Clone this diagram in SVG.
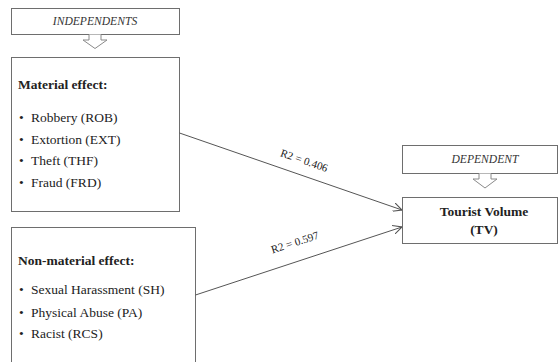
<svg xmlns="http://www.w3.org/2000/svg" width="559" height="362" viewBox="0 0 559 362">
<style>
.box{fill:#fff;stroke:#6e6e6e;stroke-width:1}
.hd{fill:#fff;stroke:#8a8a8a;stroke-width:1}
.t{font-family:"Liberation Serif","DejaVu Serif",serif;font-size:13.5px;fill:#222}
.b{font-weight:bold}
.i{font-style:italic;font-size:11.6px;fill:#333}
.r{font-size:11px}
.c{stroke:#555;stroke-width:1;fill:none}
</style>
<defs>
<marker id="ah" viewBox="0 0 10 10" refX="10" refY="5" markerWidth="9" markerHeight="9" orient="auto" markerUnits="userSpaceOnUse">
<path d="M0,0 L10,5 L0,10" fill="none" stroke="#555" stroke-width="1.2"/>
</marker>
</defs>
<rect width="559" height="362" fill="#fff"/>
<g id="independents">
<rect class="box" x="11.5" y="8.5" width="168" height="26"/>
<text class="t i" x="95" y="25" text-anchor="middle">INDEPENDENTS</text>
<path class="hd" d="M89,34.5 L89,40 L83,40 L95,48.5 L107,40 L101,40 L101,34.5"/>
</g>
<g id="material">
<rect class="box" x="11.5" y="57.5" width="168" height="154"/>
<text class="t b" x="18" y="89">Material effect:</text>
<text class="t" x="19" y="122">•</text><text class="t" x="31" y="122">Robbery (ROB)</text>
<text class="t" x="19" y="144">•</text><text class="t" x="31" y="144">Extortion (EXT)</text>
<text class="t" x="19" y="165">•</text><text class="t" x="31" y="165">Theft (THF)</text>
<text class="t" x="19" y="187">•</text><text class="t" x="31" y="187">Fraud (FRD)</text>
</g>
<g id="nonmaterial">
<rect class="box" x="11.5" y="227.5" width="184" height="140"/>
<text class="t b" x="18" y="265">Non-material effect:</text>
<text class="t" x="19" y="294">•</text><text class="t" x="31" y="294">Sexual Harassment (SH)</text>
<text class="t" x="19" y="317">•</text><text class="t" x="31" y="317">Physical Abuse (PA)</text>
<text class="t" x="19" y="338">•</text><text class="t" x="31" y="338">Racist (RCS)</text>
</g>
<g id="dependent">
<rect class="box" x="402.5" y="145.5" width="155" height="28"/>
<text class="t i" x="485" y="163" text-anchor="middle">DEPENDENT</text>
<path class="hd" d="M479,173.5 L479,179 L473,179 L485,188 L497,179 L491,179 L491,173.5"/>
</g>
<g id="tourist">
<rect class="box" x="402.5" y="197.5" width="155" height="46"/>
<text class="t b" font-size="14.5" x="484" y="216" text-anchor="middle">Tourist Volume</text>
<text class="t b" font-size="14.5" x="484" y="234" text-anchor="middle">(TV)</text>
</g>
<g id="connectors">
<line class="c" x1="179.5" y1="133" x2="402" y2="210" marker-end="url(#ah)"/>
<line class="c" x1="195.5" y1="295" x2="402" y2="227" marker-end="url(#ah)"/>
<text class="t r" x="303" y="164" text-anchor="middle" transform="rotate(19 303 164)">R2 = 0.406</text>
<text class="t r" x="296" y="246" text-anchor="middle" transform="rotate(-18 296 246)">R2 = 0.597</text>
</g>
</svg>
